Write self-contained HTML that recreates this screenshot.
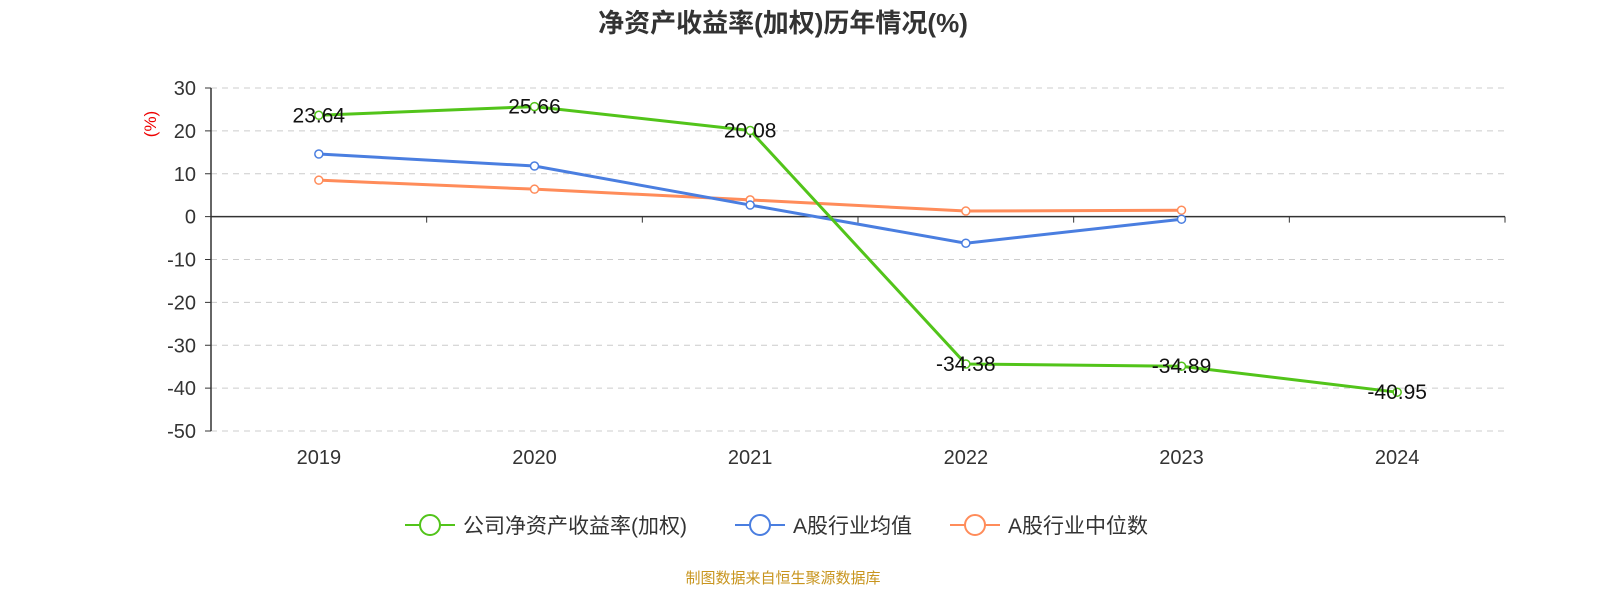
<!DOCTYPE html>
<html><head><meta charset="utf-8"><style>
body{margin:0;background:#fff;width:1600px;height:600px;overflow:hidden;font-family:"Liberation Sans","Noto Sans CJK SC",sans-serif}
</style></head><body>
<svg id="c" width="1600" height="600" xmlns="http://www.w3.org/2000/svg" font-family="Liberation Sans, Noto Sans CJK SC, sans-serif">
<text x="783" y="32" text-anchor="middle" font-size="26" font-weight="bold" fill="#333">净资产收益率(加权)历年情况(%)</text>
<text transform="translate(156,124) rotate(-90)" text-anchor="middle" font-size="17" fill="#e00">(%)</text>
<g id="grid"></g><g id="axes"></g><g id="series"></g>
<g>
<g><line x1="405" y1="525" x2="455" y2="525" stroke="#52c41a" stroke-width="2"/><circle cx="430" cy="525" r="10" fill="#fff" stroke="#52c41a" stroke-width="2"/><text x="463" y="533" font-size="21" fill="#333">公司净资产收益率(加权)</text></g>
<g><line x1="735" y1="525" x2="785" y2="525" stroke="#4a7ee0" stroke-width="2"/><circle cx="760" cy="525" r="10" fill="#fff" stroke="#4a7ee0" stroke-width="2"/><text x="793" y="533" font-size="21" fill="#333">A股行业均值</text></g>
<g><line x1="950" y1="525" x2="1000" y2="525" stroke="#ff8c5a" stroke-width="2"/><circle cx="975" cy="525" r="10" fill="#fff" stroke="#ff8c5a" stroke-width="2"/><text x="1008" y="533" font-size="21" fill="#333">A股行业中位数</text></g>
</g>
<text x="783" y="583" text-anchor="middle" font-size="15" fill="#c8951e">制图数据来自恒生聚源数据库</text>
</svg>
<script>
const categories=["2019","2020","2021","2022","2023","2024"];
const companyRoe=[23.64,25.66,20.08,-34.38,-34.89,-40.95];
const industryMean=[14.6,11.8,2.7,-6.2,-0.6];
const industryMedian=[8.5,6.4,3.9,1.3,1.5];
const yTicks=[30,20,10,0,-10,-20,-30,-40,-50];
const NS="http://www.w3.org/2000/svg";
const x0=211,x1=1505,yTop=88,yBot=431,ymax=30,ymin=-50;
const y=v=>yTop+(ymax-v)/(ymax-ymin)*(yBot-yTop);
const bw=(x1-x0)/categories.length;
const x=i=>x0+bw*(i+0.5);
function mk(t,a,p){const e=document.createElementNS(NS,t);for(const k in a)e.setAttribute(k,a[k]);p.appendChild(e);return e;}
const grid=document.getElementById('grid'),axes=document.getElementById('axes'),ser=document.getElementById('series');
yTicks.forEach(v=>{
 if(v!==0){const g=mk('line',{x1:x0,x2:x1,y1:y(v),y2:y(v),stroke:'#ccc','stroke-dasharray':'6,5'},grid);
 
 }
 const t=mk('text',{x:x0-15,y:y(v)+7,'text-anchor':'end','font-size':20,fill:'#333'},axes);t.textContent=v;
 
 
 mk('line',{x1:x0-6,x2:x0,y1:y(v),y2:y(v),stroke:'#333'},axes);
});
const ya=mk('line',{x1:x0,x2:x0,y1:yTop,y2:yBot,stroke:'#333','stroke-width':1.5},axes);


const xa=mk('line',{x1:x0,x2:x1,y1:y(0),y2:y(0),stroke:'#333','stroke-width':1.5},axes);


for(let i=0;i<=categories.length;i++)mk('line',{x1:x0+bw*i,x2:x0+bw*i,y1:y(0),y2:y(0)+6,stroke:'#333'},axes);
categories.forEach((c,i)=>{const t=mk('text',{x:x(i),y:464,'text-anchor':'middle','font-size':20,fill:'#333'},axes);t.textContent=c;
 
 });
function series(vals,color,name,labels){
 const g=mk('g',{},ser);
 
 
 mk('polyline',{points:vals.map((v,i)=>x(i)+','+y(v)).join(' '),fill:'none',stroke:color,'stroke-width':3},g);
 vals.forEach((v,i)=>{const p=mk('circle',{cx:x(i),cy:y(v),r:4,fill:'#fff',stroke:color,'stroke-width':1.5},g);
  
  
  if(labels){const t=mk('text',{x:x(i),y:y(v)+7,'text-anchor':'middle','font-size':21,fill:'#111'},g);t.textContent=v.toFixed(2);
   
   }});
}
series(industryMedian,'#ff8c5a','industry-median-line',false);
series(industryMean,'#4a7ee0','industry-mean-line',false);
series(companyRoe,'#52c41a','company-roe-line',true);
</script>
</body></html>
